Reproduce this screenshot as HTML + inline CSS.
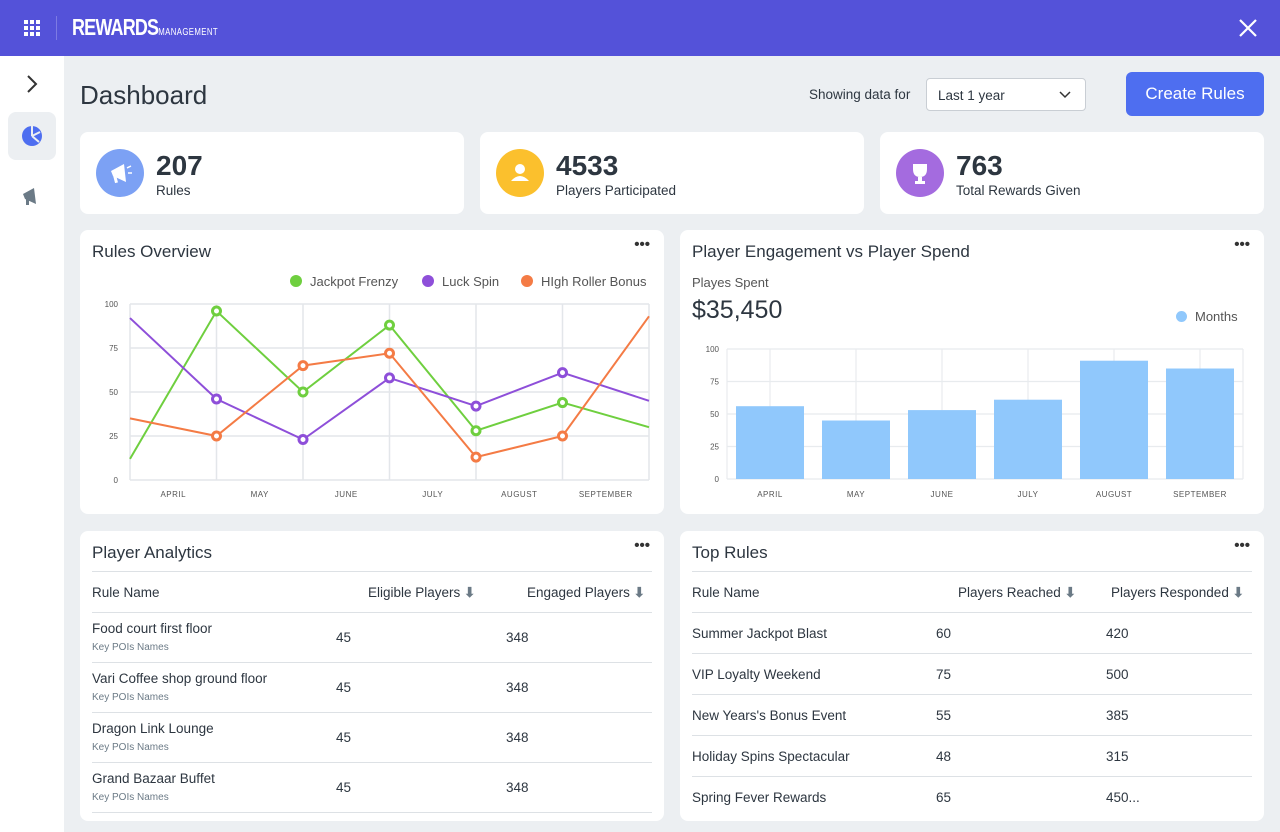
<!DOCTYPE html>
<html><head><meta charset="utf-8"><style>
*{box-sizing:border-box;margin:0;padding:0}
body{width:1280px;height:832px;overflow:hidden;background:#eceff2;font-family:"Liberation Sans",sans-serif;color:#2d3640;position:relative}
.top{position:absolute;left:0;top:0;width:1280px;height:56px;background:#5452d9}
.side{position:absolute;left:0;top:56px;width:64px;height:776px;background:#fff}
.card{position:absolute;background:#fff;border-radius:8px}
.abs{position:absolute}
.t{font-size:17px;color:#2d3640}
.dots{position:absolute;right:14px;top:6px;font-size:15px;font-weight:bold;letter-spacing:0px;color:#333}
.row{position:absolute;left:12px;right:12px;border-bottom:1px solid #dde1e5;font-size:13.5px}
</style></head><body>
<div class="top">
 <div class="abs" style="left:24px;top:20px;width:16px;height:16px;display:grid;grid-template-columns:repeat(3,4px);gap:2px">
  <i style="background:#fff"></i><i style="background:#fff"></i><i style="background:#fff"></i><i style="background:#fff"></i><i style="background:#fff"></i><i style="background:#fff"></i><i style="background:#fff"></i><i style="background:#fff"></i><i style="background:#fff"></i></div>
 <div class="abs" style="left:56px;top:16px;width:1px;height:24px;background:#7d7be3"></div>
 <div class="abs" style="left:72px;top:14px;color:#fff;font-weight:bold;font-size:23px;letter-spacing:-1px;transform:scaleX(.78);transform-origin:left;white-space:nowrap">REWARDS<span style="font-size:10px;font-weight:normal;letter-spacing:0.5px">MANAGEMENT</span></div>
 <div class="abs" style="left:1238px;top:18px"><svg width="20" height="20"><path d="M2 2 L18 18 M18 2 L2 18" stroke="#fff" stroke-width="2.2"/></svg></div>
</div>
<div class="side">
 <div class="abs" style="left:24px;top:18px"><svg width="16" height="20"><path d="M4 2 L12 10 L4 18" fill="none" stroke="#333" stroke-width="2"/></svg></div>
 <div class="abs" style="left:8px;top:56px;width:48px;height:48px;border-radius:8px;background:#eceff2">
  <svg width="48" height="48"><circle cx="24" cy="24" r="10" fill="#4e6ef0"/><path d="M24 24 L24 14 M24 24 L32 20 M24 24 L31 30" stroke="#eceff2" stroke-width="2"/></svg></div>
 <div class="abs" style="left:20px;top:128px"><svg width="24" height="24"><path d="M3 10 L14 4 L16 20 L5 15 Z" fill="#6b7a86"/><rect x="6" y="14" width="3" height="7" fill="#6b7a86"/></svg></div>
</div>
<div class="abs" style="left:80px;top:80px;font-size:26px;color:#2d3640">Dashboard</div>
<div class="abs" style="left:809px;top:87px;font-size:13.5px">Showing data for</div>
<div class="abs" style="left:926px;top:78px;width:160px;height:33px;border:1px solid #c9ced4;border-radius:4px;background:#fff;font-size:13.5px;padding:9px 11px">Last 1 year<svg style="position:absolute;right:14px;top:12px" width="12" height="8"><path d="M1 1 L6 6 L11 1" fill="none" stroke="#333" stroke-width="1.5"/></svg></div>
<div class="abs" style="left:1126px;top:72px;width:138px;height:44px;border-radius:6px;background:#4e6ef0;color:#fff;font-size:17px;text-align:center;line-height:44px">Create Rules</div>

<div class="card" style="left:80px;top:132px;width:384px;height:82px">
 <div class="abs" style="left:16px;top:17px;width:48px;height:48px;border-radius:50%;background:#7ca1f4"><svg width="48" height="48"><path d="M15 22 L28 15 L30 33 L17 27 Z" fill="#fff"/><rect x="18" y="26" width="3" height="8" fill="#fff" transform="rotate(-15 19 30)"/><path d="M31 19 L35 17 M32 24 L36 24" stroke="#fff" stroke-width="1.5"/></svg></div>
 <div class="abs" style="left:76px;top:18px;font-size:28px;font-weight:bold">207</div>
 <div class="abs" style="left:76px;top:51px;font-size:13.5px">Rules</div></div>
<div class="card" style="left:480px;top:132px;width:384px;height:82px">
 <div class="abs" style="left:16px;top:17px;width:48px;height:48px;border-radius:50%;background:#fbc02d"><svg width="48" height="48"><circle cx="24" cy="20" r="5" fill="#fff"/><path d="M15 32 Q24 22 33 32 Z" fill="#fff"/></svg></div>
 <div class="abs" style="left:76px;top:18px;font-size:28px;font-weight:bold">4533</div>
 <div class="abs" style="left:76px;top:51px;font-size:13.5px">Players Participated</div></div>
<div class="card" style="left:880px;top:132px;width:384px;height:82px">
 <div class="abs" style="left:16px;top:17px;width:48px;height:48px;border-radius:50%;background:#a46bdf"><svg width="48" height="48"><path d="M17 15 H31 V20 Q31 28 24 28 Q17 28 17 20 Z" fill="#fff"/><rect x="22" y="28" width="4" height="4" fill="#fff"/><rect x="19" y="32" width="10" height="3" fill="#fff"/></svg></div>
 <div class="abs" style="left:76px;top:18px;font-size:28px;font-weight:bold">763</div>
 <div class="abs" style="left:76px;top:51px;font-size:13.5px">Total Rewards Given</div></div>

<div class="card" style="left:80px;top:230px;width:584px;height:284px">
 <div class="abs t" style="left:12px;top:12px">Rules Overview</div><div class="dots">•••</div>
</div>
<svg class="abs" id="lc" style="left:0;top:0" width="1280" height="832"></svg>

<div class="card" style="left:680px;top:230px;width:584px;height:284px">
 <div class="abs t" style="left:12px;top:12px">Player Engagement vs Player Spend</div><div class="dots">•••</div>
 <div class="abs" style="left:12px;top:45px;font-size:13px;color:#555">Playes Spent</div>
 <div class="abs" style="left:12px;top:66px;font-size:25px">$35,450</div>
 <div class="abs" style="left:496px;top:79px;font-size:13px;color:#555"><span style="display:inline-block;width:11px;height:11px;border-radius:50%;background:#90c8fc;margin-right:8px;vertical-align:-1px"></span>Months</div>
</div>
<svg class="abs" id="bc" style="left:0;top:0" width="1280" height="832"></svg>

<div class="card" style="left:80px;top:531px;width:584px;height:290px">
 <div class="abs t" style="left:12px;top:12px">Player Analytics</div><div class="dots">•••</div>
 <div class="row" style="top:40px;height:42px;border-top:1px solid #dde1e5"><span class="abs" style="left:0;top:13px">Rule Name</span><span class="abs" style="left:276px;top:13px">Eligible Players <b style="color:#6b7a86">⬇</b></span><span class="abs" style="left:435px;top:13px">Engaged Players <b style="color:#6b7a86">⬇</b></span></div>
 <div class="row" style="top:82px;height:50px"><span class="abs" style="left:0;top:8px">Food court first floor</span><span class="abs" style="left:0;top:29px;font-size:10px;color:#6b7a86">Key POIs Names</span><span class="abs" style="left:244px;top:17px">45</span><span class="abs" style="left:414px;top:17px">348</span></div>
 <div class="row" style="top:132px;height:50px"><span class="abs" style="left:0;top:8px">Vari Coffee shop ground floor</span><span class="abs" style="left:0;top:29px;font-size:10px;color:#6b7a86">Key POIs Names</span><span class="abs" style="left:244px;top:17px">45</span><span class="abs" style="left:414px;top:17px">348</span></div>
 <div class="row" style="top:182px;height:50px"><span class="abs" style="left:0;top:8px">Dragon Link Lounge</span><span class="abs" style="left:0;top:29px;font-size:10px;color:#6b7a86">Key POIs Names</span><span class="abs" style="left:244px;top:17px">45</span><span class="abs" style="left:414px;top:17px">348</span></div>
 <div class="row" style="top:232px;height:50px"><span class="abs" style="left:0;top:8px">Grand Bazaar Buffet</span><span class="abs" style="left:0;top:29px;font-size:10px;color:#6b7a86">Key POIs Names</span><span class="abs" style="left:244px;top:17px">45</span><span class="abs" style="left:414px;top:17px">348</span></div>
</div>

<div class="card" style="left:680px;top:531px;width:584px;height:290px">
 <div class="abs t" style="left:12px;top:12px">Top Rules</div><div class="dots">•••</div>
 <div class="row" style="top:40px;height:42px;border-top:1px solid #dde1e5"><span class="abs" style="left:0;top:13px">Rule Name</span><span class="abs" style="left:266px;top:13px">Players Reached <b style="color:#6b7a86">⬇</b></span><span class="abs" style="left:419px;top:13px">Players Responded <b style="color:#6b7a86">⬇</b></span></div>
 <div class="row" style="top:82px;height:41px"><span class="abs" style="left:0;top:13px">Summer Jackpot Blast</span><span class="abs" style="left:244px;top:13px">60</span><span class="abs" style="left:414px;top:13px">420</span></div>
 <div class="row" style="top:123px;height:41px"><span class="abs" style="left:0;top:13px">VIP Loyalty Weekend</span><span class="abs" style="left:244px;top:13px">75</span><span class="abs" style="left:414px;top:13px">500</span></div>
 <div class="row" style="top:164px;height:41px"><span class="abs" style="left:0;top:13px">New Years's Bonus Event</span><span class="abs" style="left:244px;top:13px">55</span><span class="abs" style="left:414px;top:13px">385</span></div>
 <div class="row" style="top:205px;height:41px"><span class="abs" style="left:0;top:13px">Holiday Spins Spectacular</span><span class="abs" style="left:244px;top:13px">48</span><span class="abs" style="left:414px;top:13px">315</span></div>
 <div class="row" style="top:246px;height:41px;border-bottom:none"><span class="abs" style="left:0;top:13px">Spring Fever Rewards</span><span class="abs" style="left:244px;top:13px">65</span><span class="abs" style="left:414px;top:13px">450...</span></div>
</div>

<script>
const months=["APRIL","MAY","JUNE","JULY","AUGUST","SEPTEMBER"];
const yTicks=[0,25,50,75,100];
const seriesNames=["Jackpot Frenzy","Luck Spin","HIgh Roller Bonus"];
const seriesColors=["#6fcf3f","#8e4fd9","#f47b45"];
const jackpot=[12,96,50,88,28,44,30];
const luck=[92,46,23,58,42,61,45];
const roller=[35,25,65,72,13,25,93];
const spend=[56,45,53,61,91,85];
const NS="http://www.w3.org/2000/svg";
function mk(p,t,a){const e=document.createElementNS(NS,t);for(const k in a)e.setAttribute(k,a[k]);p.appendChild(e);return e;}
const lc=document.getElementById('lc');
const lx0=130,lx1=649,ly0=480,ly1=304;
const lxs=i=>lx0+(lx1-lx0)*i/6, lys=v=>ly0-(ly0-ly1)*v/100;
yTicks.forEach(v=>{const l=mk(lc,'line',{x1:lx0,x2:lx1,y1:lys(v),y2:lys(v),stroke:'#e3e6ea','stroke-width':1.5});

const t=mk(lc,'text',{x:118,y:lys(v)+3,'text-anchor':'end','font-size':8,fill:'#555'});t.textContent=v;
});
for(let i=0;i<=6;i++){const l=mk(lc,'line',{x1:lxs(i),x2:lxs(i),y1:ly1,y2:ly0,stroke:'#e3e6ea','stroke-width':1.5});
}
months.forEach((m,i)=>{const t=mk(lc,'text',{x:(lxs(i)+lxs(i+1))/2,y:497,'text-anchor':'middle','font-size':8,fill:'#555','letter-spacing':0.5});t.textContent=m;
});
[jackpot,luck,roller].forEach((s,k)=>{
 const p=mk(lc,'polyline',{points:s.map((v,i)=>lxs(i)+','+lys(v)).join(' '),fill:'none',stroke:seriesColors[k],'stroke-width':2});
 
 s.forEach((v,i)=>{if(i>0&&i<6){const c=mk(lc,'circle',{cx:lxs(i),cy:lys(v),r:4,fill:'#fff',stroke:seriesColors[k],'stroke-width':3});
 }});
});
let lgx=[290,422,521];
seriesNames.forEach((n,k)=>{const c=mk(lc,'circle',{cx:lgx[k]+6,cy:281,r:6,fill:seriesColors[k]});

const t=mk(lc,'text',{x:lgx[k]+20,y:286,'font-size':13,fill:'#555','font-family':'Liberation Sans'});t.textContent=n;
});
const bc=document.getElementById('bc');
const bx0=727,bx1=1243,by0=479,by1=349,bw=(bx1-bx0)/6;
const bys=v=>by0-(by0-by1)*v/100;
yTicks.forEach(v=>{const l=mk(bc,'line',{x1:bx0,x2:bx1,y1:bys(v),y2:bys(v),stroke:'#e8ebee','stroke-width':1.2});

const t=mk(bc,'text',{x:719,y:bys(v)+3,'text-anchor':'end','font-size':8,fill:'#555'});t.textContent=v;
});
[bx0,bx1].forEach(x=>{mk(bc,'line',{x1:x,x2:x,y1:by1,y2:by0,stroke:'#e8ebee','stroke-width':1.2});});
spend.forEach((v,i)=>{const cx=bx0+bw*(i+0.5);
 mk(bc,'line',{x1:cx,x2:cx,y1:by1,y2:by0,stroke:'#e8ebee','stroke-width':1.2});
 const r=mk(bc,'rect',{x:cx-34,y:bys(v),width:68,height:by0-bys(v),fill:'#90c8fc'});
 
 const t=mk(bc,'text',{x:cx,y:497,'text-anchor':'middle','font-size':8,fill:'#555','letter-spacing':0.5});t.textContent=months[i];
 });
</script>
</body></html>
